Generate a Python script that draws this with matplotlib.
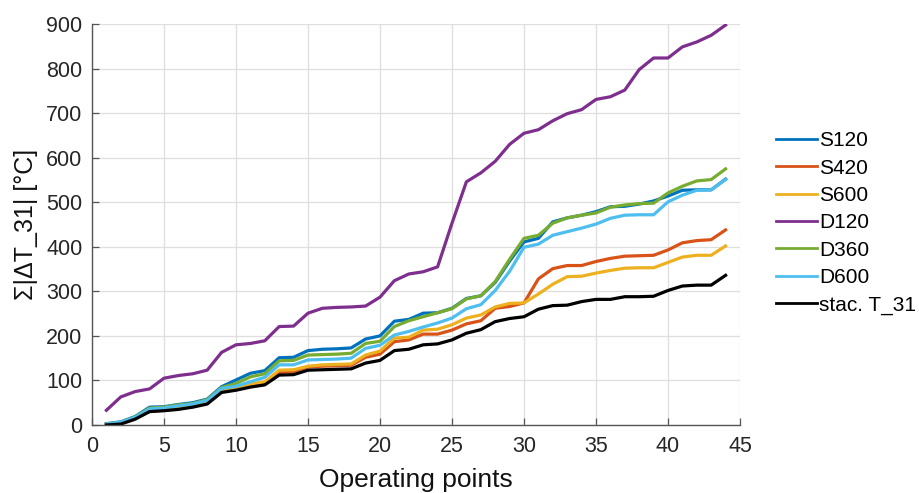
import matplotlib
matplotlib.use("Agg")
import matplotlib.pyplot as plt
import numpy as np

plt.rcParams['font.family'] = ['Liberation Sans', 'DejaVu Sans']

points = np.arange(1, 45)

S120 = [3, 7, 19, 40, 41, 46, 50, 58, 86, 101, 116, 122, 151, 152, 167, 170, 171, 173, 193, 200,
        233, 237, 251, 252, 262, 284, 290, 320, 368, 411, 419, 456, 465, 471, 479, 490, 491, 496,
        503, 514, 527, 528, 528, 552]
S420 = [1, 5, 15, 31, 33, 37, 41, 50, 75, 80, 88, 94, 118, 120, 130, 132, 133, 134, 152, 159,
        187, 191, 204, 204, 213, 227, 234, 262, 266, 274, 328, 351, 358, 358, 367, 374, 379, 380,
        381, 393, 409, 414, 416, 438]
S600 = [1, 5, 16, 32, 34, 38, 42, 52, 77, 82, 92, 97, 123, 124, 132, 135, 136, 137, 157, 166,
        195, 197, 213, 215, 225, 240, 247, 265, 273, 274, 294, 316, 333, 334, 341, 347, 352, 353,
        353, 365, 377, 381, 381, 402]
D120 = [33, 63, 75, 81, 105, 111, 115, 123, 163, 180, 183, 189, 221, 222, 251, 262, 264, 265,
        267, 287, 324, 339, 344, 355, 453, 546, 566, 592, 630, 655, 663, 683, 699, 708, 731, 737,
        752, 798, 824, 824, 849, 860, 875, 898]
D360 = [2, 6, 18, 38, 40, 45, 48, 57, 84, 93, 108, 115, 144, 145, 157, 158, 159, 161, 183, 188,
        221, 234, 243, 252, 261, 283, 290, 322, 372, 419, 426, 453, 465, 471, 476, 489, 494, 497,
        498, 521, 536, 548, 551, 575]
D600 = [2, 6, 17, 36, 38, 43, 47, 55, 82, 87, 97, 107, 135, 135, 146, 147, 148, 150, 172, 179,
        202, 210, 220, 229, 240, 261, 270, 302, 345, 399, 406, 426, 434, 442, 451, 464, 471, 472,
        472, 501, 516, 527, 528, 551]
stac_T31 = [0, 2, 13, 30, 32, 35, 40, 47, 73, 78, 85, 90, 112, 113, 123, 124, 125, 126, 139, 145,
            167, 170, 180, 182, 191, 206, 214, 232, 239, 243, 260, 268, 269, 277, 282, 282, 288, 288,
            289, 302, 312, 314, 314, 336]

labels = ['S120', 'S420', 'S600', 'D120', 'D360', 'D600', 'stac. T_31']
series = [S120, S420, S600, D120, D360, D600, stac_T31]
colors = ['#0072BD', '#D95319', '#EDB120', '#7E2F8E', '#77AC30', '#4DBEEE', '#000000']

xticks = list(range(0, 50, 5))
yticks = list(range(0, 1000, 100))

fig = plt.figure(figsize=(9.19, 4.93), dpi=100)
ax = fig.add_axes([0.1001, 0.138, 0.7051, 0.813])

for vals, lab, col in zip(series, labels, colors):
    ax.plot(points, vals, color=col, lw=2.3, label=lab, solid_joinstyle='round')

ax.set_xlim(0, 45)
ax.set_ylim(0, 900)
ax.set_xticks(xticks)
ax.set_yticks(yticks)
ax.grid(True, color='#dedede', lw=0.9)
ax.set_axisbelow(True)
for s in ['top', 'right']:
    ax.spines[s].set_visible(False)
for s in ['left', 'bottom']:
    ax.spines[s].set_color('#555555')
    ax.spines[s].set_linewidth(1.0)
ax.tick_params(direction='in', length=5, width=0.9, color='#555555',
               labelcolor='#262626', labelsize=15.5)
ax.tick_params(axis='x', pad=8)
ax.tick_params(axis='y', pad=7)

ax.set_xlabel('Operating points', fontsize=19, color='#111111', labelpad=8)
ax.set_ylabel('Σ|ΔT_31| [°C]', fontsize=18, color='#111111', labelpad=6)

leg = ax.legend(loc='center left', bbox_to_anchor=(1.043, 0.504), frameon=False,
                fontsize=15, handlelength=1.95, handletextpad=0.12, labelspacing=0.4,
                borderaxespad=0)
for line in leg.get_lines():
    line.set_linewidth(2.0)

fig.savefig('out.png', dpi=100)
